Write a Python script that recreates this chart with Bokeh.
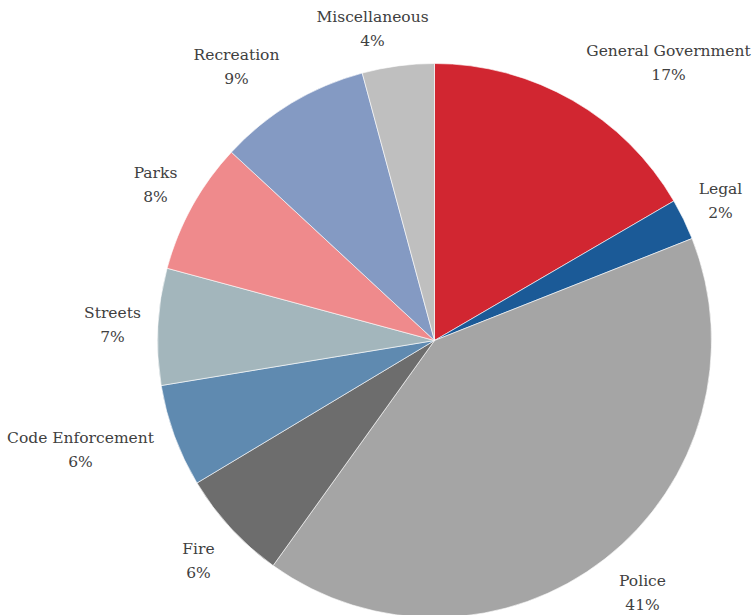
import math
from bokeh.plotting import figure
from bokeh.models import ColumnDataSource
from bokeh.core.properties import value
from bokeh.embed import file_html
from bokeh.resources import INLINE

categories = ["General Government", "Legal", "Police", "Fire", "Code Enforcement",
              "Streets", "Parks", "Recreation", "Miscellaneous"]
shares = [16.6, 2.4, 40.9, 6.5, 6.0, 6.8, 7.7, 8.9, 4.2]
pct_labels = ["17%", "2%", "41%", "6%", "6%", "7%", "8%", "9%", "4%"]
colors = ["#d12631", "#1b5a97", "#a5a5a5", "#6d6d6d", "#5f8ab0",
          "#a3b6bc", "#ef8a8c", "#849ac3", "#bfbfbf"]

# label layout (pixels from top-left, centre of the two-line label)
label_px = [668, 720, 642, 198, 80, 112, 155, 236, 372]
label_py = [62, 200, 592, 560, 449, 324, 184, 66, 28]

W, H = 753, 615
cx, cy, R = 434, H - 340, 277

total = sum(shares)
starts, ends = [], []
acc = 0.0
for s in shares:
    a0 = math.pi / 2 - 2 * math.pi * acc / total
    acc += s
    a1 = math.pi / 2 - 2 * math.pi * acc / total
    starts.append(a0)
    ends.append(a1)

src = ColumnDataSource(dict(cat=categories, start=starts, end=ends, color=colors))

p = figure(width=W, height=H, x_range=(0, W), y_range=(0, H),
           output_backend="svg", toolbar_location=None, min_border=0)
p.axis.visible = False
p.grid.visible = False
p.outline_line_color = None
p.background_fill_color = "white"

p.wedge(x=cx, y=cy, radius=R, start_angle="start", end_angle="end",
        direction="clock", fill_color="color", line_color="white",
        line_width=0.6, source=src)

lsrc1 = ColumnDataSource(dict(x=label_px, y=[H - (y - 12) for y in label_py], t=categories))
lsrc2 = ColumnDataSource(dict(x=label_px, y=[H - (y + 12) for y in label_py], t=pct_labels))
for s in (lsrc1, lsrc2):
    p.text(x="x", y="y", text="t", source=s, text_align="center",
           text_baseline="middle", text_font=value("DejaVu Serif"),
           text_font_size="15.5px", text_color="#404040")

open("out.html", "w").write(file_html(p, INLINE))
